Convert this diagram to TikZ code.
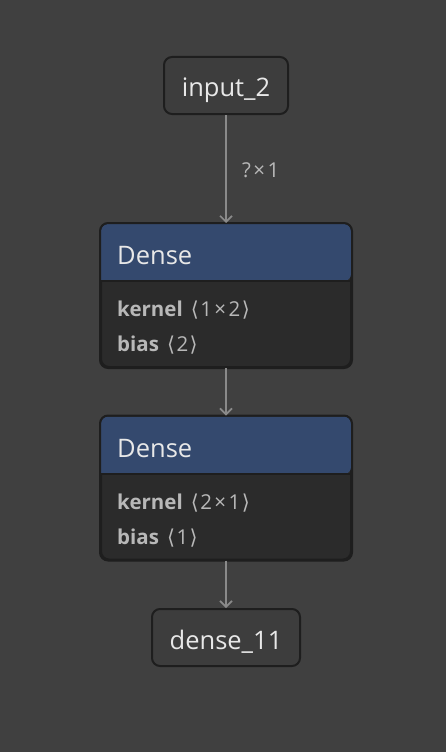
\documentclass[tikz,border=0pt]{standalone}
\usepackage{fontspec}
\setmainfont{Open Sans}
\newfontfamily\symf{DejaVu Sans}
\usetikzlibrary{arrows.meta}
\definecolor{bg}{HTML}{404040}
\definecolor{nodefill}{HTML}{3D3D3D}
\definecolor{edgec}{HTML}{1E1E1E}
\definecolor{hdr}{HTML}{34496E}
\definecolor{body}{HTML}{2B2B2B}
\definecolor{txt}{HTML}{E8E8E8}
\definecolor{attr}{HTML}{B8B8B8}
\definecolor{conn}{HTML}{8A8A8A}
\newcommand{\la}{\hspace{8pt}{\symf\char"27E8}\hspace{1.5pt}}
\newcommand{\ra}{\hspace{1.5pt}{\symf\char"27E9}}
\newcommand{\tms}{\hspace{2.5pt}×\hspace{2.5pt}}
\tikzset{
  io/.style={draw=edgec, line width=2pt, fill=nodefill, rounded corners=8pt, inner sep=0pt,
    text=txt, font=\fontsize{25.5}{30}\selectfont, minimum height=57pt, text depth=0pt},
  opbox/.style={draw=edgec, line width=2pt, fill=body, rounded corners=8pt, inner sep=0pt,
    minimum width=250pt, minimum height=143pt},
  conn/.style={draw=conn, line width=2pt, -{Straight Barb[length=6pt,width=12pt,line width=1.6pt]}},
  hdrtext/.style={anchor=base west, text=txt, font=\fontsize{25.5}{30}\selectfont, inner sep=0pt},
  attrtext/.style={anchor=base west, text=attr, font=\fontsize{20.5}{24}\selectfont, inner sep=0pt},
  lbl/.style={text=attr, font=\fontsize{20.5}{24}\selectfont, inner sep=0pt, anchor=base west}
}
\begin{document}
\begin{tikzpicture}[x=1pt,y=-1pt]
\fill[bg] (0,0) rectangle (446,752);
\useasboundingbox (0,0) rectangle (446,752);
\node[io, minimum width=124pt, text height=21pt] (in) at (226,85.5) {input\_2};
\node[opbox] (d1) at (226,295.5) {};
\node[opbox] (d2) at (226,488) {};
\node[io, minimum width=148pt, text height=23pt] (out) at (226,637.5) {dense\_11};
% headers
\fill[hdr, rounded corners=7pt] ([xshift=1pt,yshift=-1pt]d1.north west) -- ([xshift=-1pt,yshift=-1pt]d1.north east) -- ([xshift=-1pt]d1.north east |- 0,281) [sharp corners] -- ([xshift=1pt]d1.north west |- 0,281) [rounded corners=7pt] -- cycle;
\draw[edgec, line width=2pt] (d1.west |- 0,281) -- (d1.east |- 0,281);
\draw[edgec, line width=2pt, rounded corners=8pt] (d1.north west) rectangle (d1.south east);
\fill[hdr, rounded corners=7pt] ([xshift=1pt,yshift=-1pt]d2.north west) -- ([xshift=-1pt,yshift=-1pt]d2.north east) -- ([xshift=-1pt]d2.north east |- 0,474) [sharp corners] -- ([xshift=1pt]d2.north west |- 0,474) [rounded corners=7pt] -- cycle;
\draw[edgec, line width=2pt] (d2.west |- 0,474) -- (d2.east |- 0,474);
\draw[edgec, line width=2pt, rounded corners=8pt] (d2.north west) rectangle (d2.south east);
% texts
\node[hdrtext] (d1h) at (117,264) {Dense};
\node[attrtext] (d1k) at (117,316) {\textbf{kernel}\la1\tms2\ra};
\node[attrtext] (d1b) at (117,351) {\textbf{bias}\la2\ra};
\node[hdrtext] (d2h) at (117,457) {Dense};
\node[attrtext] (d2k) at (117,509) {\textbf{kernel}\la2\tms1\ra};
\node[attrtext] (d2b) at (117,544) {\textbf{bias}\la1\ra};
% connectors
\draw[conn] (in.south) -- (d1.north);
\draw[conn] (d1.south) -- (d2.north);
\draw[conn] (d2.south) -- (out.north);
\node[lbl] (l1) at (242,177) {?\tms1};
\end{tikzpicture}
\end{document}
